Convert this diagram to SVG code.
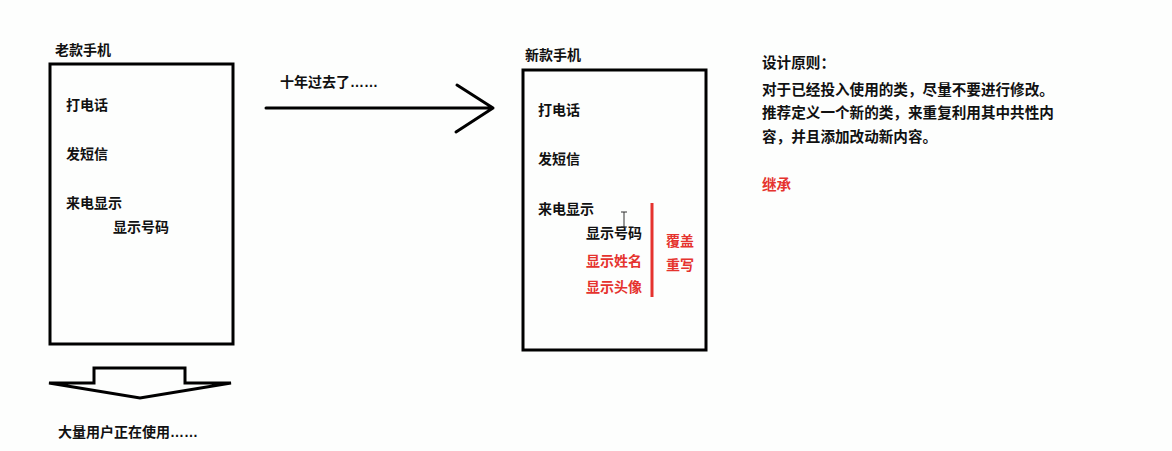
<svg xmlns="http://www.w3.org/2000/svg" width="1172" height="451" viewBox="0 0 1172 451">
<style>
text{font-family:"Microsoft YaHei","Noto Sans CJK SC",sans-serif;font-weight:bold;font-size:14px;fill:#111}
.red{fill:#e5332e}
.rt{font-size:14.6px}
.dots{font-family:"Liberation Sans",sans-serif}
.box{fill:none;stroke:#000;stroke-width:3}
.ln{fill:none;stroke:#000;stroke-width:3;stroke-linecap:round;stroke-linejoin:round}
</style>
<rect width="1172" height="451" fill="#fdfefd"/>
<g id="old-phone">
<text x="55" y="55">老款手机</text>
<rect class="box" x="50" y="64" width="183" height="280"/>
<text x="66" y="110" font-size="15">打电话</text>
<text x="66" y="159">发短信</text>
<text x="66" y="208">来电显示</text>
<text x="113" y="232">显示号码</text>
</g>
<g id="new-phone">
<text x="525" y="60">新款手机</text>
<rect class="box" x="523" y="70" width="183" height="280"/>
<text x="538" y="115">打电话</text>
<text x="538" y="164">发短信</text>
<text x="538" y="214">来电显示</text>
<text x="586" y="238">显示号码</text>
<text x="586" y="266" class="red">显示姓名</text>
<text x="586" y="292" class="red">显示头像</text>
<text x="666" y="246" class="red">覆盖</text>
<text x="666" y="270" class="red">重写</text>
<line x1="652" y1="203" x2="652" y2="297" stroke="#e5332e" stroke-width="3"/>
<path d="M621 212h6M624 212v15M621 227h6" stroke="#333" stroke-width="1" fill="none"/>
</g>
<g id="principle">
<text x="762" y="68" class="rt">设计原则：</text>
<text x="762" y="95" class="rt">对于已经投入使用的类，尽量不要进行修改。</text>
<text x="762" y="118" class="rt">推荐定义一个新的类，来重复利用其中共性内</text>
<text x="762" y="142" class="rt">容，并且添加改动新内容。</text>
<text x="762" y="190" class="red rt">继承</text>
</g>
<g id="users">
<text x="58" y="437">大量用户正在使用<tspan class="dots">……</tspan></text>
</g>
<g id="connectors">
<text x="280" y="87">十年过去了<tspan class="dots">……</tspan></text>
<path class="ln" d="M266 108H493M457 85L493 108L456 132"/>
<path d="M49 383H94V368H185V383H231L140 398Z" fill="none" stroke="#000" stroke-width="3" stroke-linejoin="miter"/>
</g>
</svg>
